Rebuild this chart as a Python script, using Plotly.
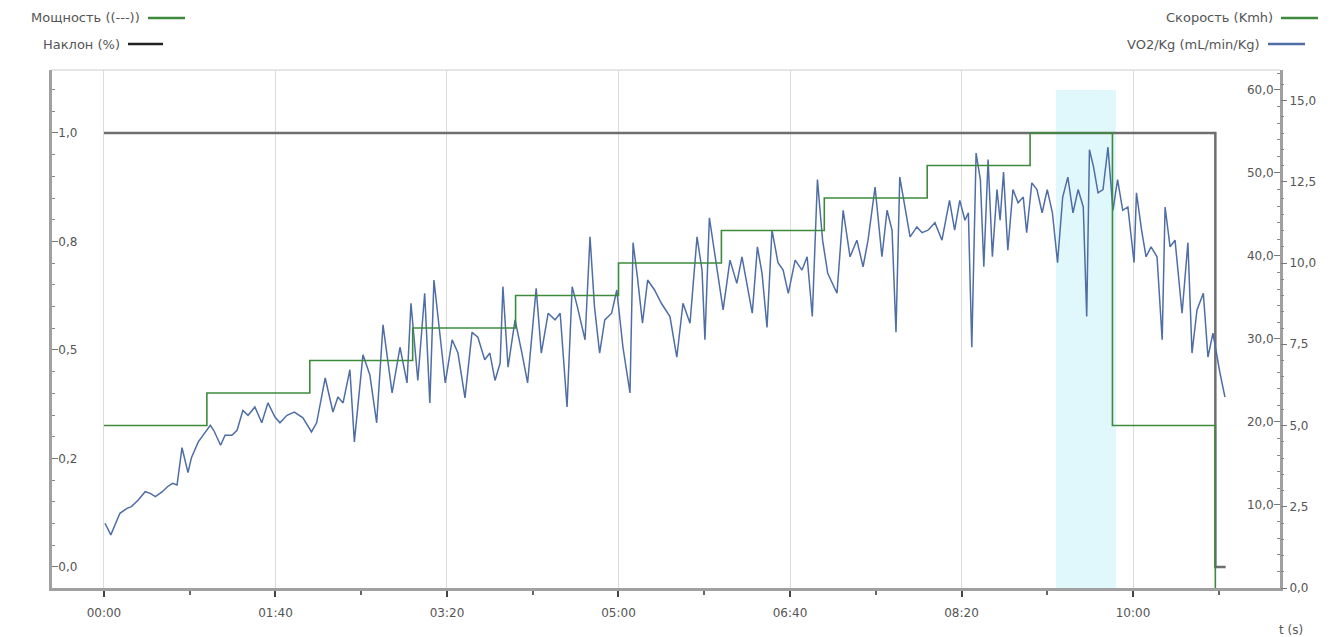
import plotly.graph_objects as go

# ---- data -------------------------------------------------------------
# time axis labels (seconds -> mm:ss)
time_tick_vals = [0, 100, 200, 300, 400, 500, 600]
time_tick_text = ["00:00", "01:40", "03:20", "05:00", "06:40", "08:20", "10:00"]

# incline (%) – left axis
incline_t = [0, 648, 654]
incline_v = [1.0, 0.0, 0.0]
incline_tick_vals = [0.0, 0.25, 0.5, 0.75, 1.0]
incline_tick_text = ["0,0", "0,2", "0,5", "0,8", "1,0"]

# treadmill speed (km/h) – outer right axis
speed_t = [0, 60, 120, 180, 240, 300, 360, 420, 480, 540, 588, 648]
speed_v = [5, 6, 7, 8, 9, 10, 11, 12, 13, 14, 5, 0]

# VO2/Kg (mL/min/Kg) – inner right axis
vo2_t = [
    0.6, 4, 9.3, 13.4, 16, 20, 24, 27, 30, 34, 37, 40, 42.6, 45.5, 49, 51, 55, 59,
    62, 64, 68, 70.6, 74.6, 77.6, 81, 84, 88, 92, 95.6, 99.7, 102.6, 106.7, 111,
    116, 121, 124, 129, 133.5, 136.4, 139.4, 143.4, 146, 151, 155, 159, 162.7,
    168, 172.6, 176.7, 179, 183, 187, 190, 192.4, 196, 199, 203, 206.4, 210.5,
    214.6, 218, 222, 225, 228, 231, 232.6, 235.6, 239.7, 243.7, 247, 252, 255,
    259, 263, 266, 270, 273, 276, 280.5, 283.4, 286, 289, 292, 296, 299, 302.6,
    306.7, 308.5, 311, 314, 317, 321,
    325, 330, 334, 337.6, 341.7, 345.8, 348.7, 350.4, 353, 357.4, 361, 365, 369,
    372, 378, 381, 383.7, 386.6, 389.5, 393, 396, 399, 403, 407, 410, 413, 416,
    419, 422, 427.4, 431, 435, 439, 442.6, 445.5, 449.6, 453.6, 456.6, 459.5,
    461.8, 464, 467, 470, 474, 477, 480.5, 484.5, 488.6,
    493, 496, 499, 502, 504, 506, 508.5, 511, 513, 515.5, 518, 520.7, 522.5,
    524.5, 527, 530, 533, 536, 538, 541, 544, 547, 550, 553, 556, 559, 562, 565,
    568, 571, 573, 574.6, 577, 579.6, 582.5, 585.4, 588.3, 591, 594, 597, 600.6,
    602, 605, 607.6, 610.5, 614, 617, 618.7, 621.6, 624.5, 628.6, 632, 634.4,
    637.3, 641, 643.7, 646.6, 650.7, 653.6,
]
vo2_v = [
    7.8, 6.4, 9.0, 9.6, 9.8, 10.6, 11.6, 11.4, 11.0, 11.6, 12.2, 12.6, 12.4, 16.9,
    13.9, 15.7, 17.6, 18.8, 19.6, 19.0, 17.2, 18.4, 18.4, 19.0, 21.4, 20.8, 21.8,
    19.9, 22.3, 20.6, 19.9, 20.8, 21.2, 20.5, 18.8, 19.9, 25.3, 21.2, 23.0, 22.3,
    26.3, 17.6, 28.1, 25.7, 19.9, 31.7,
    23.5, 29.0, 24.7, 34.3, 25.0, 35.5, 22.3, 37.1, 30.2, 24.7, 29.9, 28.3, 22.9,
    30.8, 30.2, 27.5, 28.3, 25.0, 27.1, 36.3, 26.6, 32.3, 28.3, 24.7, 36.1, 28.3,
    33.1, 32.3, 33.1, 21.8, 36.3, 33.9, 29.9, 42.3, 33.9, 28.3, 32.3, 33.1, 35.9,
    29.0, 23.5, 41.6, 37.5, 31.9, 37.1, 35.9,
    34.3, 32.7, 27.8, 34.3, 31.9, 42.3, 38.3, 29.9, 44.6, 38.3, 33.5, 39.5, 36.7,
    39.9, 33.1, 41.1, 37.9, 31.4, 43.1, 39.2, 38.3, 35.5, 39.5, 38.3, 39.9, 32.7,
    49.2, 41.9, 37.9, 35.5, 45.5, 39.9, 41.9, 38.7, 41.9, 48.3, 39.9, 45.5, 43.1,
    30.8, 49.5, 45.9, 42.3, 43.5, 42.8, 43.1, 44.0, 41.9,
    46.7, 43.1, 46.7, 44.3, 45.2, 29.0, 52.4, 49.2, 38.7, 51.6, 39.9, 48.0, 44.3,
    50.1, 40.7, 48.0, 46.4, 47.1, 42.8, 48.8, 48.0, 45.2, 48.0, 45.2, 39.2, 47.1,
    49.5, 45.2, 48.0, 45.9, 32.7, 52.8, 50.7, 47.6, 48.0, 53.1, 45.5, 49.2, 45.5,
    45.9, 39.2, 47.6, 43.1, 39.9, 41.1, 39.9, 29.9, 45.9, 41.1, 41.9, 33.1, 41.6,
    28.3, 33.5, 35.5, 27.8, 30.7, 25.9, 23.0,
]

# highlighted interval (s)
band_t = [555, 590]

# ---- styling ------------------------------------------------------------
W, H = 1334, 637
ML, MR, MT, MB = 52, 54, 70, 49
PW, PH = W - ML - MR, H - MT - MB

GREEN = "#3d8a3d"
BLUE = "#4f6ea6"
GREY_LINE = "#6e6e6e"
AXIS = "#a0a0a0"
TXT = "#555555"
FONT = "DejaVu Sans"


def px(x):
    return (x - ML) / PW


def py(y):
    return (H - MB - y) / PH


fig = go.Figure()

fig.add_trace(go.Scatter(
    x=incline_t, y=incline_v, mode="lines", line=dict(color=GREY_LINE, width=2.5, shape="hv"),
    yaxis="y", showlegend=False, hoverinfo="skip"))
fig.add_trace(go.Scatter(
    x=speed_t, y=speed_v, mode="lines", line=dict(color=GREEN, width=1.6, shape="hv"),
    yaxis="y3", showlegend=False))
fig.add_trace(go.Scatter(
    x=vo2_t, y=vo2_v, mode="lines", line=dict(color=BLUE, width=1.5),
    yaxis="y2", showlegend=False))

shapes = [
    dict(type="rect", xref="x", yref="y2", x0=band_t[0], x1=band_t[1], y0=0, y1=60,
         fillcolor="#e0f7fb", line=dict(width=0), layer="below"),
    dict(type="line", xref="paper", yref="paper", x0=0, x1=1, y0=1, y1=1,
         line=dict(color="#dedede", width=1.5), layer="below"),
]

annotations = []
legend_items = [
    # text, right edge of text, sample x0, sample x1, y, colour
    ("Мощность ((---))", 142, 148, 185, 18, GREEN),
    ("Наклон (%)", 122, 128, 163, 44, "#222222"),
    ("Скорость (Kmh)", 1275, 1281, 1318, 18, GREEN),
    ("VO2/Kg (mL/min/Kg)", 1262, 1268, 1305, 44, BLUE),
]
for text, tx, sx0, sx1, yy, col in legend_items:
    annotations.append(dict(
        text=text, xref="paper", yref="paper", x=px(tx), y=py(yy), xanchor="right",
        yanchor="middle", showarrow=False, font=dict(family=FONT, size=13, color=TXT)))
    shapes.append(dict(type="line", xref="paper", yref="paper", x0=px(sx0), x1=px(sx1),
                       y0=py(yy), y1=py(yy), line=dict(color=col, width=2.5)))

annotations.append(dict(
    text="t (s)", xref="paper", yref="paper", x=px(1291), y=py(630), xanchor="center",
    yanchor="middle", showarrow=False, font=dict(family=FONT, size=12, color=TXT)))

tickfont = dict(family=FONT, size=12, color=TXT)

fig.update_layout(
    width=W, height=H,
    margin=dict(l=ML, r=MR, t=MT, b=MB),
    paper_bgcolor="white", plot_bgcolor="white",
    separators=",.",
    showlegend=False,
    shapes=shapes, annotations=annotations,
    xaxis=dict(
        range=[-30.3, 685.7], tickmode="array", tickvals=time_tick_vals, ticktext=time_tick_text,
        showgrid=True, gridcolor="#dcdcdc", gridwidth=1, zeroline=False,
        showline=True, linecolor=AXIS, linewidth=2.5,
        ticks="outside", ticklen=6, tickwidth=1.5, tickcolor="#444",
        ticklabelstandoff=6,
        minor=dict(tickmode="linear", tick0=0, dtick=50, ticks="outside", ticklen=4,
                   tickcolor="#666", showgrid=False),
        tickfont=tickfont,
    ),
    yaxis=dict(
        range=[-0.0484, 1.145], tickmode="array", tickvals=incline_tick_vals,
        ticktext=incline_tick_text, showgrid=False, zeroline=False,
        showline=True, linecolor=AXIS, linewidth=2.5,
        ticks="inside", ticklen=6, tickcolor="#777", ticklabelposition="inside",
        minor=dict(tickmode="linear", tick0=0, dtick=0.05, ticks="inside", ticklen=3,
                   tickcolor="#888"),
        tickfont=tickfont,
    ),
    yaxis2=dict(
        range=[0, 62.4], overlaying="y", side="right", anchor="x",
        tickmode="linear", tick0=0, dtick=10, tickformat=".1f",
        showgrid=False, zeroline=False, showline=True, linecolor=AXIS, linewidth=2.5,
        ticks="inside", ticklen=6, tickcolor="#777", ticklabelposition="inside",
        minor=dict(tickmode="linear", tick0=0, dtick=2, ticks="inside", ticklen=3,
                   tickcolor="#888"),
        tickfont=tickfont,
    ),
    yaxis3=dict(
        range=[0, 15.94], overlaying="y", side="right", anchor="x",
        tickmode="linear", tick0=0, dtick=2.5, tickformat=".1f",
        showgrid=False, zeroline=False, showline=False,
        ticks="outside", ticklen=6, tickcolor="#777",
        minor=dict(tickmode="linear", tick0=0, dtick=0.5, ticks="outside", ticklen=3,
                   tickcolor="#888"),
        tickfont=tickfont,
    ),
)

fig.write_html("out.html")
